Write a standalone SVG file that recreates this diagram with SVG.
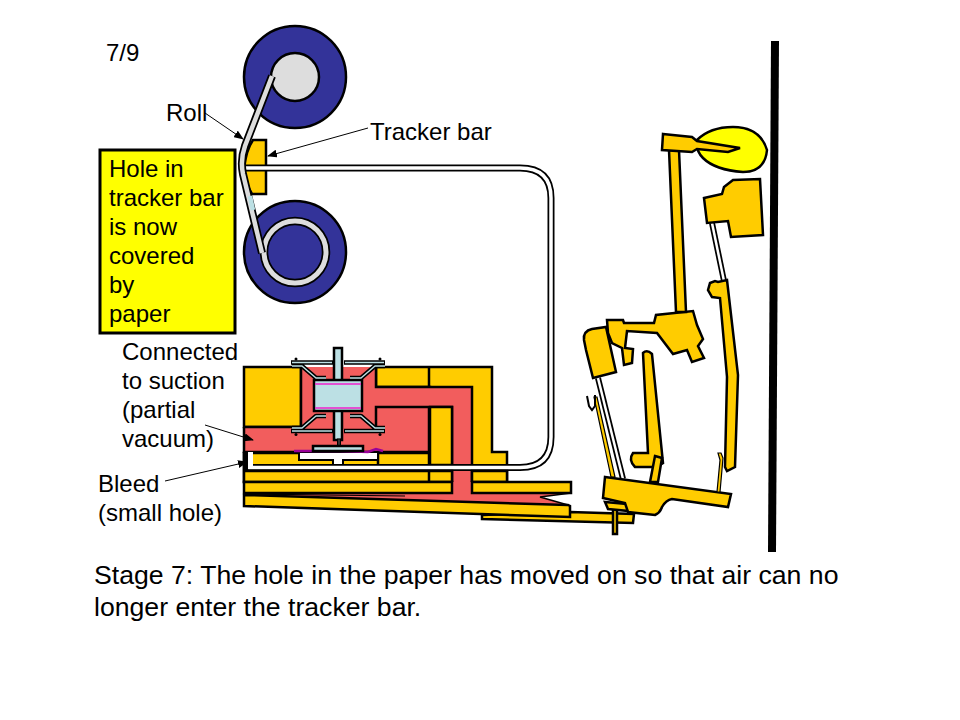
<svg xmlns="http://www.w3.org/2000/svg" width="960" height="720" viewBox="0 0 960 720">
<style>
text{font-family:"Liberation Sans",Arial,sans-serif;fill:#000;font-size:24px}
.y{fill:#ffcc00;stroke:#000;stroke-width:2.5;stroke-linejoin:miter}
.r{fill:#f25d5d;stroke:none}
.k{fill:none;stroke:#000;stroke-linecap:butt}
.a{fill:none;stroke:#000;stroke-width:1;marker-end:url(#ah)}
.b{fill:#333399;stroke:#000;stroke-width:2.5}
.v{fill:#bce0e4;stroke:#000;stroke-width:2.5}
.s1{fill:none;stroke:#000;stroke-width:4.500;stroke-linejoin:round}
.s2{fill:none;stroke:#bce0e4;stroke-width:1.500;stroke-linejoin:round}
.big{font-size:26.650px}
</style>
<defs>
<marker id="ah" markerWidth="10" markerHeight="8" refX="9" refY="4" orient="auto" markerUnits="userSpaceOnUse"><path d="M0 0L10 4L0 8Z" fill="#000"/></marker>
</defs>
<g id="rolls">
<circle class="b" cx="295" cy="77" r="51"/>
<circle cx="295" cy="77" r="24" fill="#ddd" stroke="#000" stroke-width="2.5"/>
<circle class="b" cx="295" cy="252" r="51"/>
<circle cx="295" cy="252" r="31" fill="none" stroke="#000" stroke-width="8.500"/>
<circle cx="295" cy="252" r="31" fill="none" stroke="#ddd" stroke-width="5"/>
</g>
<g id="tracker-bar">
<path class="y" d="M253 140H266V194H252Q246 185 244 169Q246 150 253 140Z"/>
</g>
<g id="pneumatic">
<path class="y" d="M244 367H301V427H244Z"/>
<path class="y" d="M376 367H492V452H507V482H244V453H429V427H376V407H430V387H376Z"/>
<path class="r" d="M244 427H301V367H376V387H472V482H452V407H430V452H244Z"/>
<path class="k" stroke-width="2.500" d="M301 367V427H244M376 367V387H472V482M376 427V407H452V482M429 367V387M429 407V482M244 427V453M244 452H430"/>
<path class="y" d="M430 407H452V465H430Z"/>
<path d="M253 453H333V460H343V453H378V469H251V453Z" fill="#ffcc00" stroke="#000" stroke-width="2.500"/>
<path d="M299 452H378V460H343V466H333V460H299Z" fill="#fff" stroke="#000" stroke-width="2"/>
<path d="M294 451H340L368 452L376 449L383 451" fill="none" stroke="#990099" stroke-width="2.500"/>
<path class="v" d="M334 348H342V440H334Z"/>
<rect x="337.500" y="439" width="3" height="8" fill="#333" stroke="#000"/>
<rect class="v" x="313" y="446" width="50" height="5"/>
<rect class="v" x="314" y="380" width="48" height="31" stroke-width="2"/>
<path d="M315 384H361M315 408H361" stroke="#ee22cc" stroke-width="1.500" fill="none"/>
<g id="valve-seats">
<path class="s1" d="M291 362.500H333M344 362.500H385M291 431H333M344 431H385M292 366H302L316 378H326M385 366H375L361 378H350M292 428H302L316 416H326M385 428H375L361 416H350"/>
<path class="s2" d="M292 362.500H332M345 362.500H384M292 431H332M345 431H384M292 366H302L316 378H326M385 366H375L361 378H350M292 428H302L316 416H326M385 428H375L361 416H350"/>
<circle cx="296" cy="359" r="1.500"/><circle cx="380" cy="359" r="1.500"/><circle cx="296" cy="434.500" r="1.500"/><circle cx="380" cy="434.500" r="1.500"/>
</g>
</g>
<g id="tube">
<path d="M246 168H520Q551 168 551 198V437Q551 467.500 520 467.500H249V453" fill="none" stroke="#000" stroke-width="7"/>
<path d="M246 168H520Q551 168 551 198V437Q551 467.500 520 467.500H250V452" fill="none" stroke="#fff" stroke-width="3.500"/>
<rect x="248" y="452" width="5" height="17" fill="#fff"/>
</g>
<g id="paper">
<path d="M272 76L245 146Q240 160 243 174L262 253" fill="none" stroke="#000" stroke-width="8"/>
<path d="M272 76L245 146Q240 160 243 174L262 253" fill="none" stroke="#ddd" stroke-width="4.500"/>
<path d="M250 196L253 210" fill="none" stroke="#bce0e4" stroke-width="4.500"/>
</g>
<g id="strips">
<path class="y" d="M244 453H245.500V471H452V482H244Z"/>
<path class="y" d="M472 471H507V482H472Z"/>
<path class="k" stroke-width="2.500" d="M429 471V482"/>
</g>
<g id="key">
<path class="y" d="M482 515L570 512L634 514L633 523L482 519Z"/>
<path class="y" d="M613 505H617V534H613Z" stroke-width="2"/>
</g>
<g id="pouch">
<path d="M244 493H452V482H472V493H571L540 497L568 505L244 495Z" fill="#f25d5d"/>
<path class="k" stroke-width="1.500" d="M571 493L540 497L568 505"/>
<path class="k" stroke-width="1.200" d="M244 494L405 496"/>
<path class="y" d="M244 482H452V493H244Z"/>
<path class="y" d="M472 482H571V493H472Z"/>
<path class="y" d="M244 495L568 505L570 506V517L244 506Z"/>
</g>
<g id="action">
<path class="s1" d="M598 378L623 479" style="stroke-width:6"/>
<path d="M598 378L623 479" stroke="#fff" stroke-width="2.500" fill="none"/>
<path class="y" d="M594 397L597 397L615 477H611Z" style="stroke-width:1.200"/>
<path class="k" stroke-width="2" d="M587 396L589 406L592 410L595 406V395"/>
<path class="y" d="M605 502L627 504L629 511L608 509Z"/>
<path class="y" d="M605 477L731 494L728 507L672 499Q666 500 662 507Q660 513 655 515L628 512L625 503L603 498Z"/>
<path class="y" stroke-width="2" d="M584 340Q583 331 592 329L606 327L616 372L593 378L586 350Z"/>
<path class="y" d="M607 320H623L624 323L654 323L656 315L693 311L697 325L703 339L698 346L704 358L692 362L687 350L673 354L657 333L627 331L625 348L633 349L632 363L624 365L622 348L612 343L608 333Z"/>
<path class="y" d="M643 353Q647 349 652 354L663 463L655 468L652 467H635Q628 460 633 453H648Z"/>
<path class="y" d="M655 456L662 458L658 482L650 482Z"/>
<path class="y" style="stroke-width:1.200" d="M718 453L721 453L723 458L720 492L717 492L720 460Z"/>
<path class="y" d="M669 150H679L686 312H676Z"/>
<path d="M697 140Q710 127 733 127Q760 127 767 150Q765 172 743 172Q715 170 703 158Q697 152 697 145Z" fill="#ffff00" stroke="#000" stroke-width="2.500"/>
<path class="y" stroke-width="2" d="M663 134L692 137L697 141L740 148L728 152L697 149L692 152L662 150Z"/>
<path class="s1" d="M712 223L724 281" style="stroke-width:6"/>
<path d="M712 223L724 281" stroke="#fff" stroke-width="2.500" fill="none"/>
<path class="y" d="M704 198L722 194L724 187L733 180L760 179L763 235L731 237L728 221L707 223Z"/>
<path class="y" d="M727 280L738 375L735 467L727 471L725 467L727 377L720 298L712 297L708 290L710 283L715 281L718 282Z"/>
</g>
<g id="bar"><path d="M775 41L772 552" stroke="#000" stroke-width="8" fill="none"/></g>
<g id="note">
<rect x="100" y="150" width="135" height="183" fill="#ffff00" stroke="#000" stroke-width="3"/>
<text x="109" y="177">Hole in</text>
<text x="109" y="206">tracker bar</text>
<text x="109" y="235">is now</text>
<text x="109" y="264">covered</text>
<text x="109" y="293">by</text>
<text x="109" y="322">paper</text>
</g>
<g id="connectors">
<path class="a" d="M205 113L243 139"/>
<path class="a" d="M368 128L268 156"/>
<path class="a" d="M205 425L253 440"/>
<path class="a" d="M165 481L247 462"/>
</g>
<g id="labels">
<text x="106" y="61">7/9</text>
<text x="166" y="121">Roll</text>
<text x="370" y="140">Tracker bar</text>
<text x="122" y="360">Connected</text>
<text x="122" y="389">to suction</text>
<text x="122" y="418">(partial</text>
<text x="122" y="447">vacuum)</text>
<text x="98" y="492">Bleed</text>
<text x="98" y="521">(small hole)</text>
<text class="big" x="94" y="584">Stage 7: The hole in the paper has moved on so that air can no</text>
<text class="big" x="94" y="616">longer enter the tracker bar.</text>
</g>
</svg>
